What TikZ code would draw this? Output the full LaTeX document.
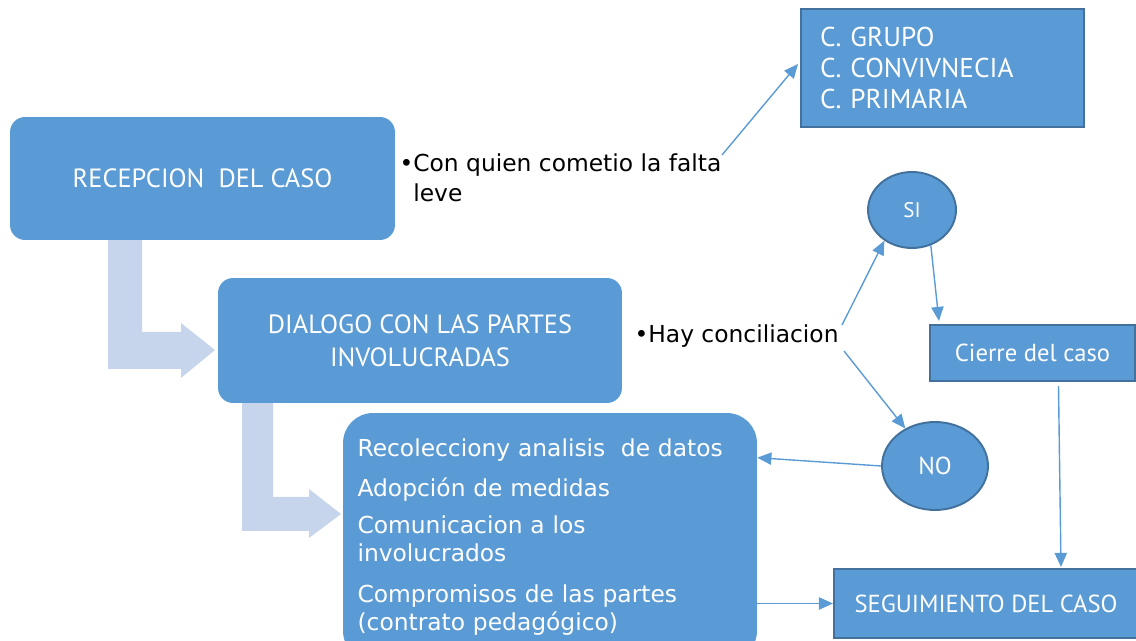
\documentclass[tikz,border=0pt]{standalone}
\usepackage{fontspec}
\setmainfont{PT Sans}
\newfontfamily\verdfont{DejaVu Sans}
\usepackage{tikz}
\usetikzlibrary{arrows.meta,calc,shapes.geometric,positioning}
\definecolor{cajaazul}{HTML}{5B9BD5}
\definecolor{bordeazul}{HTML}{41719C}
\definecolor{flechaclara}{HTML}{C6D5EB}

\begin{document}
\begin{tikzpicture}[x=0.02cm,y=-0.02cm,
  caja/.style={fill=cajaazul,rounded corners=0.3cm,text=white,align=center,
    inner sep=0pt,font=\fontsize{15}{19}\selectfont},
  cajaborde/.style={fill=cajaazul,draw=bordeazul,line width=1.2pt,text=white,
    inner sep=0pt,font=\fontsize{14}{18}\selectfont},
  circulo/.style={ellipse,fill=cajaazul,draw=bordeazul,line width=1.1pt,text=white,
    inner sep=0pt},
  nota/.style={inner sep=0pt,align=left,font=\verdfont\fontsize{13.3}{17}\selectfont},
  flecha/.style={draw=cajaazul,line width=0.8pt,-{Triangle[length=8pt,width=7pt]}},
  doblada/.style={fill=flechaclara}]
\useasboundingbox (0,0) rectangle (1136,641);

% flechas dobladas
\fill[doblada] (108,238) -- (142,238) -- (142,332) -- (181,332) -- (181,323) -- (215,350)
  -- (181,378) -- (181,369) -- (108,369) -- cycle;
\fill[doblada] (242,399) -- (273,399) -- (273,497) -- (309,497) -- (309,489) -- (341,514)
  -- (309,538) -- (309,531) -- (242,531) -- cycle;

% cajas
\node[caja,minimum width=7.7cm,minimum height=2.46cm] (recepcion) at (202.5,178.5) {RECEPCION~ DEL CASO};
\node[caja,minimum width=8.08cm,minimum height=2.5cm] (dialogo) at (420,340.5) {DIALOGO CON LAS PARTES\\INVOLUCRADAS};
\node[caja,rounded corners=0.6cm,minimum width=8.28cm,minimum height=4.96cm,text width=7.7cm,align=left,
  font=\verdfont\fontsize{13.3}{16}\selectfont] (datos) at (550,537)
  {Recolecciony analisis~ de datos\\[6.5pt]Adopción de medidas\\[5.5pt]Comunicacion a los\\involucrados\\[7pt]Compromisos de las partes\\(contrato pedagógico)};
\node[cajaborde,minimum width=5.66cm,minimum height=2.36cm,text width=4.9cm,align=left,
  font=\fontsize{15.5}{17.6}\selectfont] (grupo) at (942.5,68)
  {C. GRUPO\\C. CONVIVNECIA\\C. PRIMARIA};
\node[cajaborde,minimum width=4.1cm,minimum height=1.12cm] (cierre) at (1032.5,353) {Cierre del caso};
\node[cajaborde,minimum width=6.08cm,minimum height=1.38cm] (seguimiento) at (986,603.5) {SEGUIMIENTO DEL CASO};
\node[circulo,minimum width=1.76cm,minimum height=1.52cm,font=\fontsize{12}{14}\selectfont] (si) at (912,210) {SI};
\node[circulo,minimum width=2.12cm,minimum height=1.76cm,font=\fontsize{14}{16}\selectfont] (no) at (935,466) {NO};

% notas
\node[nota,anchor=west] (falta) at (413,178) {\llap{•}Con quien cometio la falta\\leve};
\node[nota,anchor=west] (conciliacion) at (648,336) {\llap{•}Hay conciliacion};
\coordinate (faltafin) at (722,155);
\coordinate (conc1) at (842,325);
\coordinate (conc2) at (844,351);

% conectores
\draw[flecha] (faltafin) -- ($(grupo.west)+(-2,-4)$);
\draw[flecha] (conc1) -- (si.-132);
\draw[flecha] (conc2) -- (no);
\draw[flecha] (si.-62) -- ($(cierre.north west)+(10,-3)$);
\draw[flecha] (no.west) -- ($(datos.north east)+(0,45)$);
\draw[flecha] ($(cierre.south)+(26,4)$) -- ($(seguimiento.north)+(75,-1)$);
\draw[flecha] (datos.east |- seguimiento.west) -- (seguimiento.west);
\end{tikzpicture}
\end{document}
